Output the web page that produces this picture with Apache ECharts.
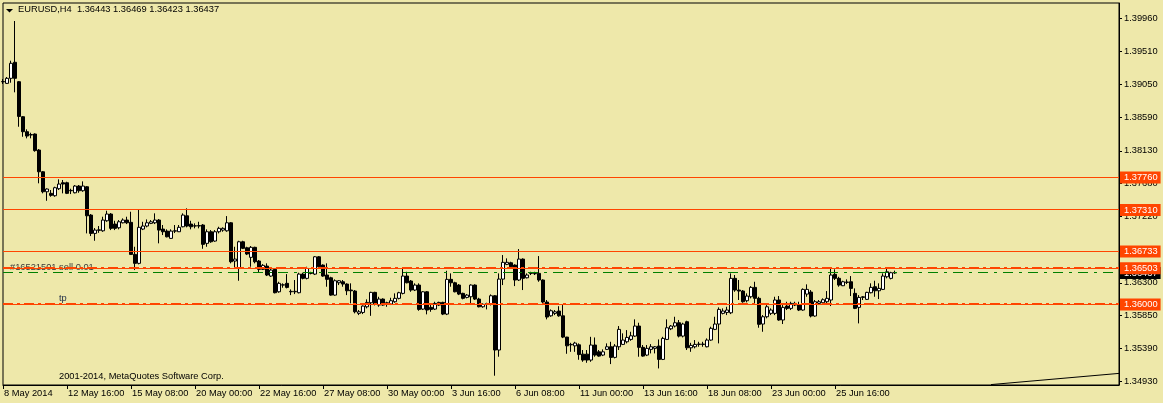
<!DOCTYPE html>
<html><head><meta charset="utf-8">
<script src="https://cdn.jsdelivr.net/npm/echarts@6/dist/echarts.min.js"></script>
<style>html,body{margin:0;padding:0;background:#EEE8AA;}#c{width:1163px;height:403px;}</style>
</head><body><div id="c"></div>
<script>
// ---- data (EURUSD H4 candles, 8 May 2014 onwards) ----
const symbolName = 'EURUSD,H4';
const headerOHLC = ['1.36443', '1.36469', '1.36423', '1.36437'];

const open = [
1.39085,1.39064,1.39134,1.39356,1.39087,1.38602,1.38394,1.38348,1.38362,1.38140,
1.37839,1.37562,1.37540,1.37507,1.37604,1.37687,1.37687,1.37576,1.37548,1.37641,
1.37576,1.37631,1.37239,1.36985,1.37027,1.37021,1.37160,1.37253,1.37114,1.37063,
1.37132,1.37170,1.37138,1.36694,1.36570,1.37045,1.37087,1.37124,1.37132,1.37170,
1.37045,1.37017,1.36916,1.37017,1.37008,1.37077,1.37229,1.37114,1.37087,1.37087,
1.37101,1.36847,1.37008,1.36879,1.37008,1.37031,1.37021,1.37132,1.36602,1.36500,
1.36869,1.36786,1.36653,1.36792,1.36602,1.36487,1.36532,1.36394,1.36487,1.36176,
1.36269,1.36293,1.36176,1.36176,1.36163,1.36421,1.36362,1.36431,1.36421,1.36661,
1.36546,1.36408,1.36370,1.36130,1.36301,1.36315,1.36283,1.36200,1.36186,1.35877,
1.35890,1.35968,1.36024,1.36168,1.35992,1.36075,1.36016,1.36006,1.36038,1.36085,
1.36154,1.36394,1.36325,1.36200,1.36269,1.35936,1.36176,1.35960,1.35936,1.36029,
1.36029,1.35867,1.36348,1.36301,1.36269,1.36154,1.36098,1.36107,1.36269,1.36075,
1.35968,1.36006,1.36002,1.36121,1.35369,1.36352,1.36556,1.36578,1.36546,1.36339,
1.36629,1.36370,1.36431,1.36426,1.36431,1.36339,1.36034,1.35843,1.35877,1.35909,
1.35843,1.35548,1.35441,1.35427,1.35441,1.35312,1.35312,1.35230,1.35438,1.35344,
1.35299,1.35378,1.35414,1.35267,1.35414,1.35447,1.35483,1.35516,1.35562,1.35701,
1.35406,1.35299,1.35378,1.35392,1.35424,1.35239,1.35516,1.35663,1.35701,1.35747,
1.35562,1.35761,1.35400,1.35414,1.35447,1.35447,1.35414,1.35507,1.35655,1.35729,
1.35877,1.35890,1.35885,1.36362,1.36200,1.36186,1.36052,1.36107,1.36237,1.36085,
1.35729,1.35830,1.35877,1.35877,1.36062,1.35785,1.35978,1.35946,1.35992,1.35992,
1.35923,1.36144,1.36172,1.35840,1.36015,1.36024,1.36038,1.36062,1.36418,1.36362,
1.36260,1.36306,1.36315,1.36154,1.35960,1.36098,1.36071,1.36163,1.36246,1.36190,
1.36209,1.36384,1.36362,1.36443];
const high = [
1.39124,1.39152,1.39378,1.39928,1.39096,1.38611,1.38427,1.38380,1.38371,1.38154,
1.37849,1.37609,1.37586,1.37632,1.37734,1.37725,1.37701,1.37604,1.37655,1.37655,
1.37706,1.37641,1.37253,1.37059,1.37087,1.37216,1.37299,1.37267,1.37160,1.37170,
1.37193,1.37216,1.37285,1.36800,1.37318,1.37146,1.37179,1.37170,1.37263,1.37184,
1.37101,1.37041,1.37041,1.37101,1.37101,1.37263,1.37332,1.37160,1.37124,1.37146,
1.37114,1.37041,1.37031,1.37031,1.37077,1.37069,1.37225,1.37142,1.36800,1.36883,
1.36883,1.36800,1.36810,1.36800,1.36616,1.36560,1.36570,1.36514,1.36500,1.36315,
1.36293,1.36421,1.36209,1.36339,1.36440,1.36440,1.36523,1.36453,1.36671,1.36671,
1.36556,1.36570,1.36384,1.36348,1.36339,1.36339,1.36293,1.36293,1.36200,1.35923,
1.35987,1.36071,1.36176,1.36176,1.36107,1.36085,1.36038,1.36093,1.36154,1.36176,
1.36500,1.36453,1.36339,1.36293,1.36293,1.36186,1.36186,1.35992,1.36038,1.36038,
1.36038,1.36467,1.36431,1.36315,1.36283,1.36163,1.36144,1.36279,1.36279,1.36093,
1.36015,1.36024,1.36140,1.36130,1.36431,1.36685,1.36639,1.36592,1.36556,1.36768,
1.36639,1.36431,1.36453,1.36453,1.36671,1.36348,1.36062,1.35932,1.35923,1.35976,
1.35992,1.35552,1.35469,1.35483,1.35461,1.35369,1.35369,1.35552,1.35543,1.35369,
1.35378,1.35461,1.35483,1.35451,1.35701,1.35600,1.35645,1.35622,1.35794,1.35747,
1.35438,1.35438,1.35451,1.35424,1.35516,1.35552,1.35794,1.35715,1.35830,1.35785,
1.35747,1.35775,1.35469,1.35507,1.35483,1.35483,1.35530,1.35692,1.35830,1.35960,
1.35946,1.35968,1.36431,1.36408,1.36339,1.36200,1.36154,1.36255,1.36315,1.36107,
1.35853,1.35992,1.35946,1.36107,1.36117,1.35992,1.36038,1.36038,1.36038,1.36038,
1.36223,1.36279,1.36200,1.36062,1.36062,1.36085,1.36186,1.36500,1.36487,1.36384,
1.36329,1.36348,1.36394,1.36223,1.36130,1.36117,1.36176,1.36293,1.36329,1.36293,
1.36431,1.36500,1.36453,1.36469];
const low = [
1.39055,1.39055,1.39073,1.38940,1.38463,1.38324,1.38302,1.38302,1.38117,1.37679,
1.37540,1.37437,1.37493,1.37493,1.37586,1.37540,1.37530,1.37530,1.37540,1.37548,
1.37562,1.36985,1.36948,1.36883,1.36993,1.37007,1.37146,1.37031,1.37031,1.37041,
1.37124,1.37114,1.36690,1.36477,1.36556,1.37031,1.37069,1.37114,1.37114,1.36847,
1.36962,1.36930,1.36911,1.36990,1.37004,1.37069,1.37069,1.37041,1.37055,1.37055,
1.36772,1.36800,1.36855,1.36869,1.36985,1.37008,1.37008,1.36570,1.36500,1.36329,
1.36768,1.36685,1.36523,1.36570,1.36440,1.36477,1.36394,1.36384,1.36154,1.36163,
1.36232,1.36223,1.36130,1.36144,1.36154,1.36348,1.36348,1.36417,1.36408,1.36514,
1.36384,1.36246,1.36121,1.36121,1.36269,1.36246,1.36130,1.36016,1.35877,1.35853,
1.35867,1.35946,1.35843,1.35987,1.35968,1.35982,1.35968,1.35992,1.36024,1.36071,
1.36140,1.36293,1.36176,1.36186,1.35913,1.35923,1.35863,1.35899,1.35923,1.35978,
1.35853,1.35853,1.36246,1.36168,1.36130,1.36071,1.36085,1.36002,1.36062,1.35960,
1.35955,1.35932,1.35987,1.35013,1.35276,1.36269,1.36546,1.36514,1.36255,1.36325,
1.36200,1.36362,1.36408,1.36408,1.36315,1.35992,1.35794,1.35830,1.35853,1.35830,
1.35534,1.35317,1.35344,1.35344,1.35234,1.35206,1.35192,1.35206,1.35276,1.35276,
1.35285,1.35369,1.35174,1.35253,1.35369,1.35438,1.35461,1.35497,1.35552,1.35276,
1.35276,1.35285,1.35322,1.35322,1.35114,1.35230,1.35507,1.35645,1.35682,1.35544,
1.35544,1.35369,1.35344,1.35392,1.35414,1.35414,1.35406,1.35497,1.35645,1.35461,
1.35863,1.35853,1.35867,1.36176,1.36062,1.36024,1.36029,1.36085,1.36016,1.35678,
1.35622,1.35808,1.35853,1.35853,1.35775,1.35729,1.35923,1.35923,1.35978,1.35909,
1.35913,1.36107,1.35821,1.35830,1.35992,1.36006,1.36016,1.35978,1.36339,1.36246,
1.36255,1.36283,1.36117,1.35936,1.35738,1.36062,1.36062,1.36154,1.36107,1.36075,
1.36200,1.36362,1.36348,1.36423];
const close = [
1.39090,1.39134,1.39342,1.39134,1.38606,1.38394,1.38334,1.38355,1.38132,1.37839,
1.37562,1.37600,1.37512,1.37618,1.37669,1.37669,1.37540,1.37581,1.37641,1.37576,
1.37641,1.37229,1.36985,1.37031,1.37035,1.37170,1.37253,1.37055,1.37055,1.37146,
1.37170,1.37132,1.36694,1.36570,1.37069,1.37087,1.37132,1.37146,1.37170,1.37031,
1.37008,1.36938,1.37017,1.37021,1.37069,1.37239,1.37087,1.37077,1.37091,1.37094,
1.36833,1.37008,1.36869,1.37008,1.37055,1.37055,1.37132,1.36592,1.36629,1.36869,
1.36778,1.36699,1.36792,1.36592,1.36487,1.36542,1.36408,1.36477,1.36163,1.36293,
1.36273,1.36237,1.36182,1.36182,1.36421,1.36362,1.36500,1.36435,1.36661,1.36523,
1.36394,1.36348,1.36130,1.36329,1.36329,1.36283,1.36190,1.36190,1.35899,1.35899,
1.35978,1.36029,1.36168,1.36002,1.36075,1.35992,1.36024,1.36052,1.36085,1.36163,
1.36394,1.36301,1.36200,1.36269,1.35932,1.36176,1.35923,1.35932,1.36015,1.35992,
1.35867,1.36348,1.36301,1.36176,1.36144,1.36085,1.36130,1.36269,1.36075,1.35968,
1.36002,1.36010,1.36121,1.35369,1.36352,1.36584,1.36584,1.36523,1.36339,1.36629,
1.36362,1.36408,1.36435,1.36431,1.36339,1.36034,1.35826,1.35913,1.35899,1.35843,
1.35548,1.35427,1.35447,1.35465,1.35306,1.35230,1.35230,1.35438,1.35299,1.35285,
1.35344,1.35414,1.35267,1.35424,1.35655,1.35507,1.35544,1.35566,1.35701,1.35406,
1.35285,1.35392,1.35414,1.35414,1.35239,1.35530,1.35677,1.35701,1.35747,1.35562,
1.35729,1.35400,1.35433,1.35447,1.35451,1.35451,1.35507,1.35670,1.35729,1.35932,
1.35909,1.35923,1.36362,1.36200,1.36186,1.36038,1.36117,1.36237,1.36085,1.35725,
1.35830,1.35968,1.35923,1.36062,1.35785,1.35960,1.35946,1.36015,1.36015,1.35923,
1.36209,1.36209,1.35840,1.36038,1.36038,1.36066,1.36085,1.36408,1.36362,1.36269,
1.36315,1.36311,1.36223,1.35946,1.36098,1.36107,1.36168,1.36237,1.36190,1.36223,
1.36394,1.36453,1.36440,1.36437];

const xTickLabels = ['8 May 2014','12 May 16:00','15 May 08:00','20 May 00:00','22 May 16:00',
  '27 May 08:00','30 May 00:00','3 Jun 16:00','6 Jun 08:00','11 Jun 00:00','13 Jun 16:00',
  '18 Jun 08:00','23 Jun 00:00','25 Jun 16:00'];
const yTickValues = [1.39960,1.39510,1.39050,1.38590,1.38130,1.37680,1.37220,1.36760,1.36300,1.35850,1.35390,1.34930];

const levelLines = [1.37760, 1.37310, 1.36733];   // horizontal lines
const orderLevels = [1.36503, 1.36000];           // sell order / tp
const bidLevel = 1.36437;
const trendStart = [247, 1.34890];
const trendEnd = [279, 1.35045];
const orderText = '#16521501 sell 0.01';
const tpText = 'tp';
const copyText = '2001-2014, MetaQuotes Software Corp.';

// ---- chart build ----
const FONT = 'Liberation Sans, Arial, sans-serif';
const FS = 9.3;
const TOTAL_SLOTS = 280, TICK_EVERY = 16;
const ORANGE = '#FF4500';

const MONTHS = ['Jan','Feb','Mar','Apr','May','Jun','Jul','Aug','Sep','Oct','Nov','Dec'];
function barTimes(n) {
  const out = [];
  let t = Date.UTC(2014, 4, 8, 0);
  while (out.length < n) {
    const d = new Date(t);
    const wd = d.getUTCDay();
    if (wd !== 0 && wd !== 6) {
      const hh = String(d.getUTCHours()).padStart(2, '0');
      out.push(d.getUTCDate() + ' ' + MONTHS[d.getUTCMonth()] + ' ' + hh + ':00');
    }
    t += 4 * 3600 * 1000;
  }
  return out;
}
const categories = barTimes(open.length);
for (let k = open.length; k < TOTAL_SLOTS; k++) categories.push('slot' + k);
const candles = open.map((o, i) => [o, close[i], low[i], high[i]]);

const showTick = (idx) => idx % TICK_EVERY === 0 && idx / TICK_EVERY < xTickLabels.length;

// line styles for horizontal levels (drawn crisp by a custom series)
const levelSpecs = [];
levelSpecs.push({ v: bidLevel, color: '#008000', width: 1, dash: [10, 6, 3, 6] });
levelLines.forEach(v => levelSpecs.push({ v, color: ORANGE, width: 1, dash: null }));
orderLevels.forEach(v => {
  levelSpecs.push({ v, color: ORANGE, width: 1, dash: null });
  levelSpecs.push({ v, color: ORANGE, width: 2, dash: [10, 4, 3, 4] });
});

// price tags on the right axis
function tag(bg) {
  return {
    show: true, position: 'end', distance: 1,
    formatter: (p) => Number(p.value).toFixed(5),
    color: '#ffffff', backgroundColor: bg, padding: [2, 3, 1, 4],
    fontFamily: FONT, fontSize: FS
  };
}
const hidden = { color: 'rgba(0,0,0,0)', width: 1, type: 'solid' };
const markData = [];
markData.push({ yAxis: bidLevel, lineStyle: hidden, label: tag('#000000') });
levelLines.forEach(v => markData.push({ yAxis: v, lineStyle: hidden, label: tag(ORANGE) }));
orderLevels.forEach(v => markData.push({ yAxis: v, lineStyle: hidden, label: tag(ORANGE) }));
markData.push([
  { coord: trendStart, lineStyle: { color: '#000000', width: 1, type: 'solid' }, label: { show: false } },
  { coord: trendEnd }
]);

const chart = echarts.init(document.getElementById('c'), null, { renderer: 'canvas' });
chart.setOption({
  animation: false,
  backgroundColor: '#EEE8AA',
  textStyle: { fontFamily: FONT },
  grid: { left: 3, right: 44, top: 3, bottom: 18, show: true, borderColor: '#000', borderWidth: 1, backgroundColor: 'transparent' },
  xAxis: {
    type: 'category', data: categories, boundaryGap: false,
    axisLine: { show: true, lineStyle: { color: '#000', width: 1 } },
    axisTick: { show: true, interval: (i) => showTick(i), length: 4, lineStyle: { color: '#000' } },
    axisLabel: {
      interval: (i) => showTick(i), formatter: (v, i) => xTickLabels[i / TICK_EVERY],
      align: 'left', margin: 4, padding: [0, 0, 0, 1], color: '#000', fontFamily: FONT, fontSize: FS
    },
    splitLine: { show: false }
  },
  yAxis: {
    type: 'value', position: 'right', scale: true,
    min: 1.348843, max: 1.401776,
    axisLine: { show: true, lineStyle: { color: '#000', width: 1 } },
    axisTick: { show: true, length: 3, customValues: yTickValues, lineStyle: { color: '#000' } },
    axisLabel: { customValues: yTickValues, formatter: (v) => Number(v).toFixed(5), margin: 5, color: '#000', fontFamily: FONT, fontSize: FS },
    splitLine: { show: false }
  },
  series: [
    {
      type: 'candlestick', data: candles, barWidth: 3, z: 2, clip: true,
      itemStyle: { color: '#ffffff', color0: '#000000', borderColor: '#000000', borderColor0: '#000000', borderWidth: 1 },
      emphasis: { disabled: true }
    },
    {
      type: 'custom', z: 3, silent: true, clip: false,
      data: levelSpecs.map((s) => [0, s.v]),
      encode: { x: 0, y: 1 },
      renderItem: (params, api) => {
        const s = levelSpecs[params.dataIndex];
        const cs = params.coordSys;
        const y = api.coord([0, api.value(1)])[1];
        const yy = s.width % 2 === 1 ? Math.floor(y) + 0.5 : Math.round(y);
        return {
          type: 'line', silent: true,
          shape: { x1: cs.x, y1: yy, x2: cs.x + cs.width, y2: yy },
          style: { stroke: s.color, lineWidth: s.width, lineDash: s.dash, opacity: 1 }
        };
      }
    },
    {
      type: 'line', data: [], z: 4, silent: true,
      markLine: { silent: true, symbol: ['none', 'none'], animation: false, precision: 5, data: markData }
    }
  ],
  graphic: [
    { type: 'polygon', z: 0, shape: { points: [[6, 9], [13, 9], [9.5, 12.5]] }, style: { fill: '#000' } },
    { type: 'text', z: 0, left: 18, top: 5, style: { text: symbolName + '  ' + headerOHLC.join(' '), fill: '#000', font: FS + 'px ' + FONT } },
    { type: 'text', z: 0, left: 10, top: 263, style: { text: orderText, fill: '#3a3a3a', font: FS + 'px ' + FONT } },
    { type: 'text', z: 0, left: 59, top: 294, style: { text: tpText, fill: '#1c2a44', font: FS + 'px ' + FONT } },
    { type: 'text', z: 0, left: 59, top: 372, style: { text: copyText, fill: '#000', font: FS + 'px ' + FONT } }
  ]
});
</script>
</body></html>
